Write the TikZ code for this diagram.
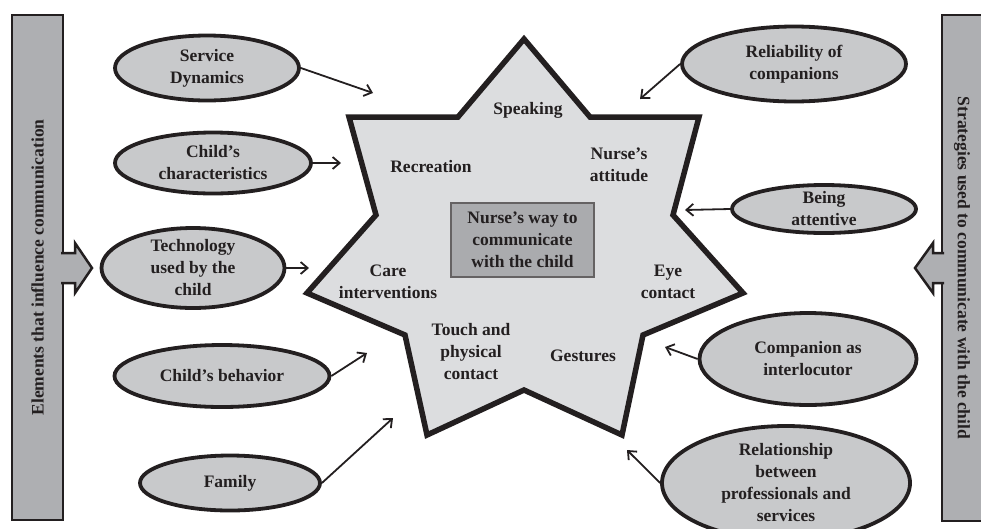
\documentclass[tikz,border=0pt]{standalone}
\usepackage{fontspec}
\setmainfont{Liberation Serif}
\usepackage{tikz}
\usetikzlibrary{shapes,arrows,arrows.meta}
\definecolor{ink}{RGB}{35,31,32}
\definecolor{bargray}{RGB}{174,175,178}
\definecolor{ellgray}{RGB}{200,201,203}
\definecolor{stargray}{RGB}{220,221,223}
\definecolor{boxgray}{RGB}{170,171,174}
\def\txtfont{\bfseries\fontsize{17.5}{22}\selectfont}

\begin{document}
\begin{tikzpicture}[x=1pt,y=-1pt,>={Straight Barb[length=7pt,width=12pt]}]
    \tikzstyle{elem}=[ellipse,line width=3.8pt,draw=ink,fill=ellgray,inner sep=-6pt,align=center,font=\txtfont,text=ink]
    \tikzstyle{lbl}=[align=center,font=\txtfont,text=ink,inner sep=0pt]
    \tikzstyle{bar}=[rectangle,line width=2.5pt,draw=ink,fill=bargray]
    \tikzstyle{link}=[->,line width=1.8pt,draw=ink]

    \useasboundingbox (0,0) rectangle (981,528);

    % side bars
    \node(lbar) [bar,minimum width=51pt,minimum height=505pt] at (37.5,267.5) {};
    \node(ltxt) [lbl,rotate=90] at (lbar) {Elements that influence communication};
    \node(rbar) [bar,minimum width=50pt,minimum height=506pt] at (967,268) {};
    \node(rtxt) [lbl,rotate=-90] at (962,268) {Strategies used to communicate with the child};
    \draw [line width=2.5pt,draw=ink,fill=bargray] (61,253) -- (75,253) -- (75,243) -- (92,268) -- (75,293) -- (75,283) -- (61,283);
    \draw [line width=2.5pt,draw=ink,fill=bargray] (944,253) -- (933,253) -- (933,243) -- (915,268) -- (933,293) -- (933,283) -- (944,283);

    % star
    \draw [line width=5.5pt,draw=ink,fill=stargray] (524,39) -- (590,117) -- (699,117) -- (673,215) -- (743,293) -- (643,335) -- (622,435) -- (524,390) -- (427,435) -- (405,335) -- (307,293) -- (376,215) -- (349,117) -- (458,117) -- cycle;

    \node(way) [lbl,draw=ink!70,fill=boxgray,line width=1.2pt,minimum width=143pt,minimum height=74pt] at (522.5,240) {Nurse's way to\\communicate\\with the child};
    \node(spk) [lbl] at (528,110) {Speaking};
    \node(rec) [lbl] at (431,167) {Recreation};
    \node(att) [lbl] at (619,165) {Nurse's\\attitude};
    \node(care) [lbl] at (388,282) {Care\\interventions};
    \node(eye) [lbl] at (668,282) {Eye\\contact};
    \node(tch) [lbl] at (471,352) {Touch and\\physical\\contact};
    \node(ges) [lbl] at (583,356) {Gestures};

    % elements
    \node(sd)  [elem,minimum width=184pt,minimum height=65pt] at (207,68) {Service\\Dynamics};
    \node(cc)  [elem,minimum width=196pt,minimum height=61pt] at (213,163) {Child's\\characteristics};
    \node(tec) [elem,minimum width=183pt,minimum height=80pt] at (193,268) {Technology\\used by the\\child};
    \node(cb)  [elem,minimum width=215pt,minimum height=62pt] at (222,376) {Child's behavior};
    \node(fam) [elem,minimum width=180pt,minimum height=55pt] at (230,483) {Family};

    % strategies
    \node(rel) [elem,minimum width=224pt,minimum height=75pt] at (794,64) {Reliability of\\companions};
    \node(ba)  [elem,minimum width=184pt,minimum height=48pt] at (824,209) {Being\\attentive};
    \node(ci)  [elem,minimum width=217pt,minimum height=92pt] at (808,359) {Companion as\\interlocutor};
    \node(rps) [elem,minimum width=248pt,minimum height=114pt] at (786,483) {Relationship\\between\\professionals and\\services};

    \coordinate(psd) at (373,93);
    \coordinate(pcc) at (341,163);
    \coordinate(ptec) at (309,268);
    \coordinate(pcb) at (367,353);
    \coordinate(pfam) at (393,418);
    \coordinate(prel) at (640,99);
    \coordinate(pba) at (685,210);
    \coordinate(pci) at (665,347);
    \coordinate(prps) at (627,450);

    \draw [link] (sd.east) -- (psd);
    \draw [link] (cc.east) -- (pcc);
    \draw [link] (tec.east) -- (ptec);
    \draw [link] (cb.east) -- (pcb);
    \draw [link] (fam.east) -- (pfam);
    \draw [link] (rel.west) -- (prel);
    \draw [link] (ba.west) -- (pba);
    \draw [link] (ci.west) -- (pci);
    \draw [link] (rps.west) -- (prps);

\end{tikzpicture}
\end{document}
